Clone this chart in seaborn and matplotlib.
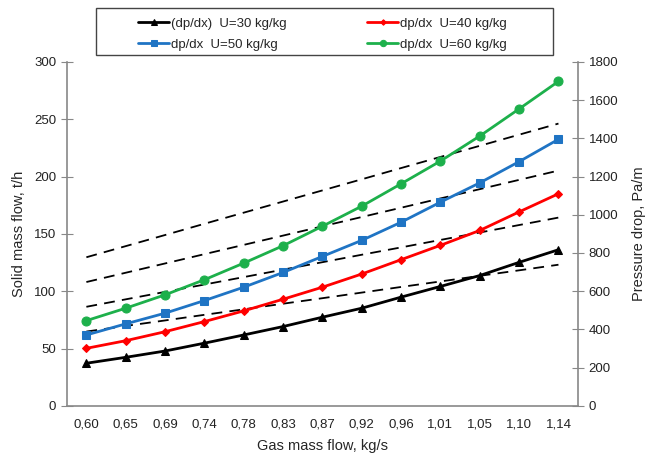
import numpy as np
import matplotlib
matplotlib.use("Agg")
import matplotlib.pyplot as plt
from matplotlib.patches import Rectangle
import seaborn as sns

sns.set_style("white")
plt.rcParams['font.family'] = ['Liberation Sans', 'DejaVu Sans']

# x categories (gas mass flow, kg/s)
gas_flow = ["0,60", "0,65", "0,69", "0,74", "0,78", "0,83", "0,87",
            "0,92", "0,96", "1,01", "1,05", "1,10", "1,14"]

# pressure drop, Pa/m (right axis)
dp_u30 = [223, 254, 287, 328, 371, 415, 464, 511, 569, 625, 682, 751, 817]
dp_u40 = [301, 341, 388, 441, 497, 558, 621, 690, 765, 840, 918, 1015, 1110]
dp_u50 = [371, 429, 485, 551, 621, 698, 782, 866, 961, 1066, 1167, 1278, 1395]
dp_u60 = [446, 511, 581, 660, 747, 838, 940, 1045, 1162, 1281, 1412, 1554, 1698]

# solid mass flow, t/h (left axis, dashed)
ms_u30 = [64.8, 69.7, 74.5, 79.4, 84.2, 89.1, 93.9, 98.8, 103.7, 108.5, 113.4, 118.2, 123.1]
ms_u40 = [86.4, 92.9, 99.4, 105.8, 112.3, 118.8, 125.3, 131.8, 138.2, 144.7, 151.2, 157.7, 164.2]
ms_u50 = [108.0, 116.1, 124.2, 132.3, 140.4, 148.5, 156.6, 164.7, 172.8, 180.9, 189.0, 197.1, 205.2]
ms_u60 = [129.6, 139.3, 149.0, 158.8, 168.5, 178.2, 187.9, 197.6, 207.4, 217.1, 226.8, 236.5, 246.2]

x = np.arange(len(gas_flow))

fig, ax = plt.subplots(figsize=(6.54, 4.55), dpi=100)
fig.subplots_adjust(left=0.102, right=0.884, bottom=0.108, top=0.864)
ax2 = ax.twinx()

# dashed solid mass flow lines
for ms in [ms_u30, ms_u40, ms_u50, ms_u60]:
    sns.lineplot(x=x, y=ms, ax=ax, color="black", linewidth=1.3,
                 dashes=False, linestyle=(0, (6, 4)))

# pressure drop series
series = [
    (dp_u30, "(dp/dx)  U=30 kg/kg", "black", "^", 6),
    (dp_u40, "dp/dx  U=40 kg/kg", "#ff0000", "D", 4),
    (dp_u50, "dp/dx  U=50 kg/kg", "#1f74c4", "s", 6),
    (dp_u60, "dp/dx  U=60 kg/kg", "#1db04b", "o", 6.5),
]
for dp, lab, col, mk, ms_ in series:
    sns.lineplot(x=x, y=dp, ax=ax2, color=col, marker=mk, markersize=ms_,
                 markeredgecolor=col, linewidth=2, label=lab)
handles, labels = ax2.get_legend_handles_labels()
ax2.get_legend().remove()

ax.set_xlim(-0.5, len(gas_flow) - 0.5)
ax.set_ylim(0, 300)
ax2.set_ylim(0, 1800)
ax.set_yticks(np.arange(0, 301, 50))
ax2.set_yticks(np.arange(0, 1801, 200))
ax.set_xticks(x)
ax.set_xticklabels(gas_flow)
ax.set_xticks(np.arange(-0.5, len(gas_flow)), minor=True)
ax.tick_params(axis='x', which='major', length=0, labelsize=9.5, pad=9, colors='#222222')
ax.tick_params(axis='x', which='minor', length=5, direction='out', color='#888888', width=1)
ax.tick_params(axis='y', length=8, direction='inout', labelsize=9.5, labelcolor='#222222', color='#888888')
ax2.tick_params(axis='y', length=8, direction='inout', labelsize=9.5, labelcolor='#222222', color='#888888')

for a in (ax, ax2):
    a.spines['top'].set_visible(False)
    for s in ('left', 'right', 'bottom'):
        a.spines[s].set_color('#888888')
        a.spines[s].set_linewidth(1.2)
ax.spines['right'].set_visible(False)
ax2.spines['left'].set_visible(False)
ax2.spines['bottom'].set_visible(False)

ax.set_xlabel("Gas mass flow, kg/s", fontsize=10.5, labelpad=6)
ax.set_ylabel("Solid mass flow, t/h", fontsize=10.5, labelpad=6)
ax2.set_ylabel("Pressure drop, Pa/m", fontsize=10.5, rotation=90, labelpad=10)

# legend box above the plot
fig.add_artist(Rectangle((96 / 654, 1 - 55 / 455), (553 - 96) / 654, 47 / 455,
                         transform=fig.transFigure, fill=False,
                         edgecolor='#444444', linewidth=1.0))
order = [0, 2, 1, 3]
leg = fig.legend([handles[i] for i in order], [labels[i] for i in order],
                 ncol=2, loc='center', bbox_to_anchor=(0.493, 0.925),
                 fontsize=9.5, frameon=False,
                 handlelength=2.35, handletextpad=0.15, borderpad=0.2,
                 labelspacing=0.65, columnspacing=6.1, markerscale=0.7)

fig.savefig("out.png", dpi=100)
